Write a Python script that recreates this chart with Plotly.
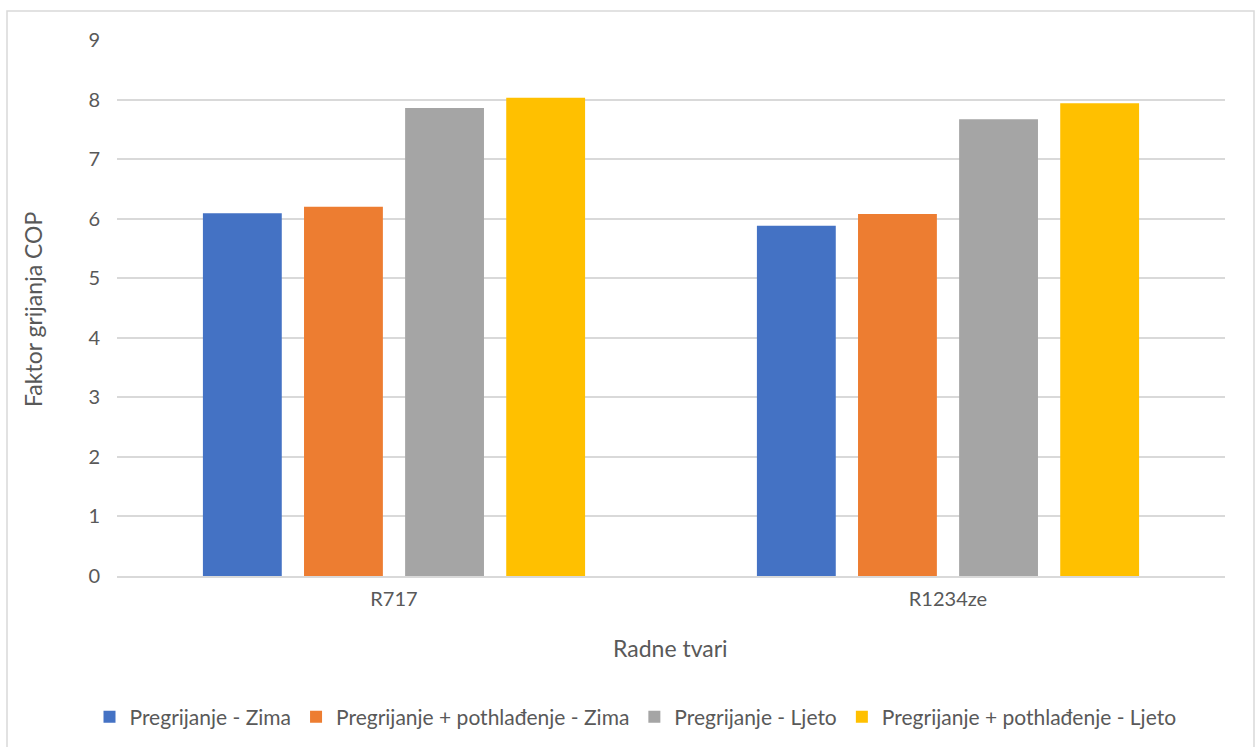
import plotly.graph_objects as go

categories = ["R717", "R1234ze"]
series_names = [
    "Pregrijanje - Zima",
    "Pregrijanje + pothlađenje - Zima",
    "Pregrijanje - Ljeto",
    "Pregrijanje + pothlađenje - Ljeto",
]
pregrijanje_zima = [6.09, 5.88]
pregrijanje_pothladjenje_zima = [6.20, 6.08]
pregrijanje_ljeto = [7.86, 7.67]
pregrijanje_pothladjenje_ljeto = [8.03, 7.94]
y_ticks = [0, 1, 2, 3, 4, 5, 6, 7, 8, 9]

colors = ["#4472C4", "#ED7D31", "#A5A5A5", "#FFC000"]
values = [pregrijanje_zima, pregrijanje_pothladjenje_zima,
          pregrijanje_ljeto, pregrijanje_pothladjenje_ljeto]

fig = go.Figure()
for name, vals, c in zip(series_names, values, colors):
    fig.add_trace(go.Bar(x=categories, y=vals, name=name, marker_color=c,
                         marker_line_width=0))

font_family = "Lato, 'Open Sans', sans-serif"
text_color = "#595959"

W, H = 1255, 747
L, R, T, B = 117, 1255 - 1225, 40, 747 - 576
PW, PH = W - L - R, H - T - B

def px_x(x):
    return (x - L) / PW

def px_y(y):
    return (H - B - y) / PH

fig.update_layout(
    width=W, height=H,
    margin=dict(l=L, r=R, t=T, b=B, autoexpand=False),
    paper_bgcolor="white", plot_bgcolor="white",
    barmode="group", bargap=0.27, bargroupgap=0.22,
    font=dict(family=font_family, color=text_color, size=16),
    showlegend=True,
    legend=dict(orientation="h", xref="container", x=635.5 / W, xanchor="center",
                y=px_y(717), yanchor="middle",
                font=dict(size=21, color=text_color),
                traceorder="normal"),
    xaxis=dict(
        automargin=False,
        showline=True, linecolor="#D9D9D9", linewidth=1.5,
        ticks="", tickfont=dict(size=20, color=text_color), ticklabelstandoff=4,
    ),
    yaxis=dict(
        automargin=False,
        range=[0, 9], tickvals=y_ticks, showgrid=True, gridcolor="#D9D9D9",
        gridwidth=1.5, zeroline=False, showline=False, ticks="",
        tickfont=dict(size=20, color=text_color), ticklabelstandoff=16,
    ),
    annotations=[
        dict(text="Radne tvari", xref="paper", yref="paper", x=px_x(670), y=px_y(648),
             xanchor="center", yanchor="middle", showarrow=False,
             font=dict(size=23, color=text_color)),
        dict(text="Faktor grijanja COP", xref="paper", yref="paper", x=px_x(33), y=px_y(310),
             xanchor="center", yanchor="middle", showarrow=False, textangle=-90,
             font=dict(size=23, color=text_color)),
    ],
    shapes=[dict(type="rect", xref="paper", yref="paper",
                 x0=px_x(7), x1=px_x(1254),
                 y0=px_y(760), y1=px_y(11),
                 line=dict(color="#D9D9D9", width=1.5), fillcolor="rgba(0,0,0,0)",
                 layer="below")],
)

fig.write_html(
    "out.html",
    config={"displayModeBar": False},
    post_script="document.body.style.margin='0px';document.body.style.overflow='hidden';",
)
